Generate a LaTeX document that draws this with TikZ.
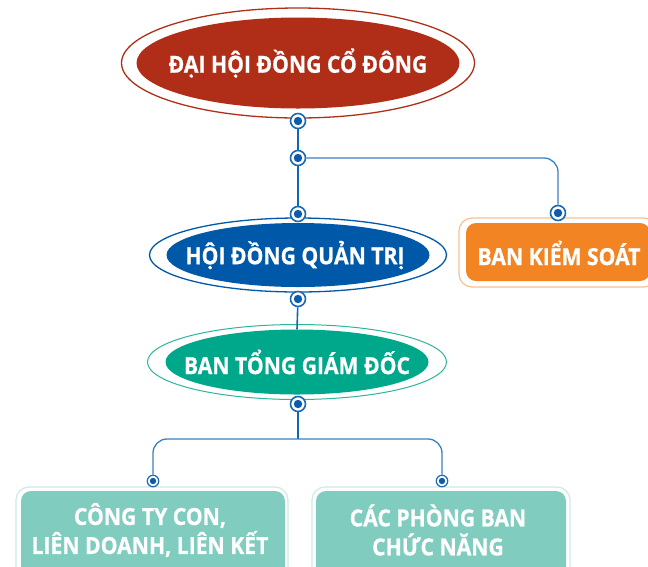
\documentclass[tikz,border=0pt]{standalone}
\usepackage{fontspec}
\newfontfamily\lblfont{Open Sans}[FakeStretch=0.9, BoldFeatures={FakeBold=0.8}]
\usetikzlibrary{shapes.geometric}
\definecolor{dred}{HTML}{B02E17}
\definecolor{dblue}{HTML}{0059A8}
\definecolor{dteal}{HTML}{00A88B}
\definecolor{tealline}{HTML}{2DB49C}
\definecolor{orng}{HTML}{F28423}
\definecolor{orngline}{HTML}{F8C08F}
\definecolor{lteal}{HTML}{80CDC0}
\definecolor{ltealline}{HTML}{CDE9E4}
\definecolor{portblue}{HTML}{1A6BB6}
\definecolor{portdot}{HTML}{0D5CAB}
\definecolor{connblue}{HTML}{3A80C2}
\definecolor{mainblue}{HTML}{1565B0}
\tikzset{
  lbl/.style={font=\lblfont\bfseries\fontsize{23.5}{29}\selectfont, text=white, align=center, inner sep=0pt},
  innerell/.style={ellipse, inner sep=0pt},
  outerell/.style={ellipse, inner sep=0pt, line width=1.3pt},
  innerbox/.style={rectangle, rounded corners=10pt, inner sep=0pt},
  outerbox/.style={rectangle, rounded corners=13pt, inner sep=0pt, line width=1.2pt},
  port/.style={circle, draw=portblue, fill=white, line width=1.6pt, minimum size=15pt, inner sep=0pt,
    path picture={\fill[portdot] (path picture bounding box.center) circle (4.2pt);}},
  smallport/.style={circle, draw=portblue, fill=white, line width=1.2pt, minimum size=11.5pt, inner sep=0pt,
    path picture={\fill[portdot] (path picture bounding box.center) circle (3.2pt);}},
  mainline/.style={draw=mainblue, line width=2pt},
  conn/.style={draw=connblue, line width=1.3pt, rounded corners=14pt},
}
\begin{document}
\begin{tikzpicture}[x=1pt,y=-1pt]
\useasboundingbox (0,0) rectangle (648,566);
\clip (0,0) rectangle (648,566);
% top
\node[outerell, draw=dred, minimum width=353pt, minimum height=110pt] (dhcdO) at (298,63) {};
\node[innerell, fill=dred, minimum width=323pt, minimum height=91pt] (dhcd) at (298,63) {};
\node[lbl] (dhcdT) at (298,63) {ĐẠI HỘI ĐỒNG CỔ ĐÔNG};
% HDQT
\node[outerell, draw=dblue, minimum width=297pt, minimum height=74pt] (hdqtO) at (298,255) {};
\node[innerell, fill=dblue, minimum width=263pt, minimum height=64pt] (hdqt) at (298,255) {};
\node[lbl] (hdqtT) at (295,255) {HỘI ĐỒNG QUẢN TRỊ};
% BKS
\node[outerbox, draw=orngline, minimum width=198pt, minimum height=69pt] (bksO) at (558,252.5) {};
\node[innerbox, fill=orng, minimum width=184pt, minimum height=58pt] (bks) at (558,252) {};
\node[lbl] (bksT) at (559,253) {BAN KIỂM SOÁT};
% BTGD
\node[outerell, draw=tealline, line width=1pt, minimum width=299pt, minimum height=75pt] (btgdO) at (297,362) {};
\node[innerell, fill=dteal, minimum width=263pt, minimum height=65pt] (btgd) at (297,362) {};
\node[lbl] (btgdT) at (297,362) {BAN TỔNG GIÁM ĐỐC};
% bottom boxes
\node[outerbox, draw=ltealline, minimum width=272pt, minimum height=93pt] (ctyO) at (152,533.5) {};
\node[innerbox, fill=lteal, minimum width=264pt, minimum height=85pt] (cty) at (153,533.5) {};
\node[lbl] (ctyT) at (150,530) {CÔNG TY CON,\\LIÊN DOANH, LIÊN KẾT};
\node[outerbox, draw=ltealline, minimum width=258pt, minimum height=93pt] (cpbO) at (441,533.5) {};
\node[innerbox, fill=lteal, minimum width=250pt, minimum height=85pt] (cpb) at (441,533.5) {};
\node[lbl] (cpbT) at (438,530) {CÁC PHÒNG BAN\\CHỨC NĂNG};
% ports
\node[port] (p1) at (298,121) {};
\node[port] (p2) at (298,158) {};
\node[port] (p3) at (298,214) {};
\node[port] (p4) at (558,213) {};
\node[port] (p5) at (298,299) {};
\node[port] (p6) at (298,404) {};
\node[smallport] (p7) at (153,481) {};
\node[smallport] (p8) at (442,481) {};
\coordinate (split) at (298,439);
% connectors
\draw[mainline] (p1) -- (p2);
\draw[mainline] (p2) -- (p3);
\draw[conn] (p2.east) -| (p4.north);
\draw[mainline, line width=1.6pt] (p5) -- (btgd.north);
\draw[mainline, line width=1.4pt] (p6) -- (split);
\draw[conn] (split) -| (p7.north);
\draw[conn] (split) -| (p8.north);
\end{tikzpicture}
\end{document}
